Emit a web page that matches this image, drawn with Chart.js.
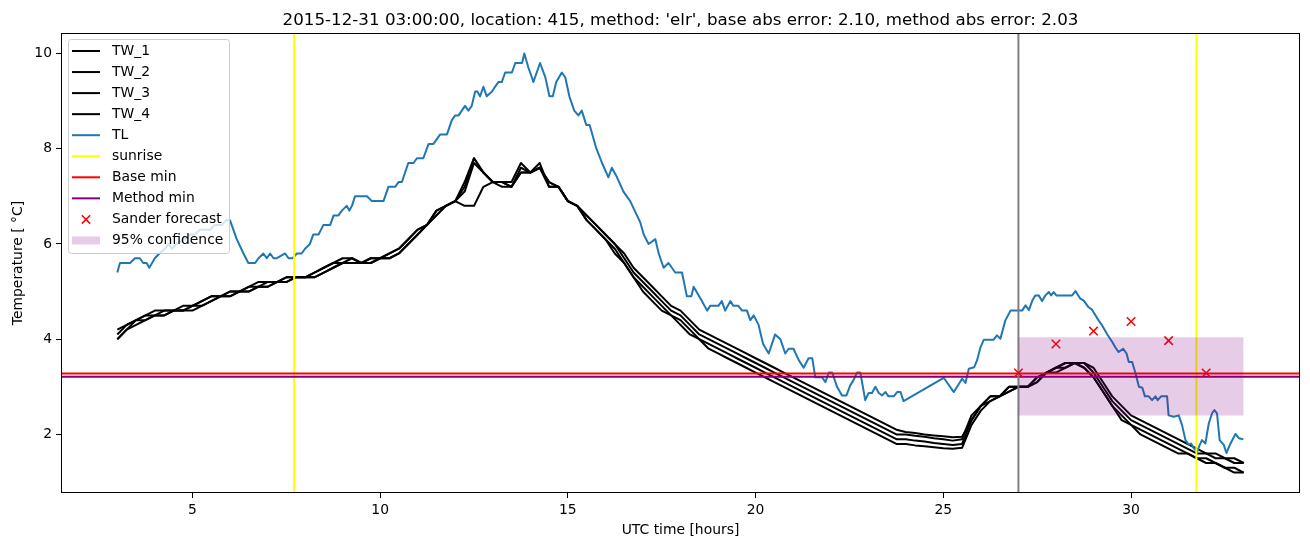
<!DOCTYPE html>
<html>
<head>
<meta charset="utf-8">
<script src="https://cdn.jsdelivr.net/npm/chart.js@4.4.0/dist/chart.umd.min.js"></script>
<style>
    body { margin: 0; background: #ffffff; }
    #contenedor { width: 1310px; height: 547px; }
</style>
</head>
<body>
<div id="contenedor"><canvas id="grafica" width="1310" height="547"></canvas></div>
<script>
const titulo = "2015-12-31 03:00:00, location: 415, method: 'elr', base abs error: 2.10, method abs error: 2.03";
const etiquetaX = "UTC time [hours]";
const etiquetaY = "Temperature [ °C]";

const xTicks = [5, 10, 15, 20, 25, 30];
const yTicks = [2, 4, 6, 8, 10];

// horas de las series TW (cada 15 min)
const twHours = [
    3, 3.25, 3.5, 3.75, 4, 4.25, 4.5, 4.75, 5, 5.25,
    5.5, 5.75, 6, 6.25, 6.5, 6.75, 7, 7.25, 7.5, 7.75,
    8, 8.25, 8.5, 8.75, 9, 9.25, 9.5, 9.75, 10, 10.25,
    10.5, 10.75, 11, 11.25, 11.5, 11.75, 12, 12.25, 12.5, 12.75,
    13, 13.25, 13.5, 13.75, 14, 14.25, 14.5, 14.75, 15, 15.25,
    15.5, 15.75, 16, 16.25, 16.5, 16.75, 17, 17.25, 17.5, 17.75,
    18, 18.25, 18.5, 18.75, 19, 19.25, 19.5, 19.75, 20, 20.25,
    20.5, 20.75, 21, 21.25, 21.5, 21.75, 22, 22.25, 22.5, 22.75,
    23, 23.25, 23.5, 23.75, 24, 24.25, 24.5, 24.75, 25, 25.25,
    25.5, 25.75, 26, 26.25, 26.5, 26.75, 27, 27.25, 27.5, 27.75,
    28, 28.25, 28.5, 28.75, 29, 29.25, 29.5, 29.75, 30, 30.25,
    30.5, 30.75, 31, 31.25, 31.5, 31.75, 32, 32.25, 32.5, 32.75,
    33
];

const tw1 = [
    4.2, 4.3, 4.4, 4.5, 4.6, 4.6, 4.6, 4.7, 4.7, 4.8,
    4.9, 4.9, 5.0, 5.0, 5.1, 5.2, 5.2, 5.2, 5.3, 5.3,
    5.3, 5.4, 5.5, 5.6, 5.7, 5.7, 5.6, 5.7, 5.7, 5.8,
    5.9, 6.1, 6.3, 6.4, 6.7, 6.8, 6.9, 7.3, 7.8, 7.5,
    7.3, 7.3, 7.3, 7.7, 7.5, 7.7, 7.2, 7.2, 6.9, 6.8,
    6.6, 6.4, 6.2, 6.0, 5.8, 5.5, 5.3, 5.1, 4.9, 4.7,
    4.6, 4.4, 4.2, 4.1, 4.0, 3.9, 3.8, 3.7, 3.6, 3.5,
    3.4, 3.3, 3.2, 3.1, 3.0, 2.9, 2.8, 2.7, 2.6, 2.5,
    2.4, 2.3, 2.2, 2.1, 2.05, 2.03, 2.0, 1.98, 1.96, 1.94,
    1.95, 2.3, 2.6, 2.8, 2.8, 2.9, 3.0, 3.0, 3.1, 3.3,
    3.4, 3.4, 3.5, 3.5, 3.4, 3.1, 2.8, 2.6, 2.4, 2.3,
    2.2, 2.1, 2.0, 1.9, 1.8, 1.7, 1.6, 1.6, 1.5, 1.5,
    1.4
];

const tw2 = [
    4.1, 4.3, 4.4, 4.5, 4.5, 4.6, 4.6, 4.6, 4.7, 4.8,
    4.9, 4.9, 5.0, 5.0, 5.1, 5.1, 5.2, 5.2, 5.3, 5.3,
    5.3, 5.4, 5.5, 5.6, 5.6, 5.7, 5.6, 5.7, 5.7, 5.8,
    5.9, 6.1, 6.3, 6.4, 6.7, 6.8, 6.9, 7.2, 7.8, 7.5,
    7.3, 7.3, 7.2, 7.6, 7.5, 7.6, 7.2, 7.2, 6.9, 6.8,
    6.6, 6.4, 6.2, 6.0, 5.7, 5.4, 5.2, 5.0, 4.8, 4.6,
    4.5, 4.3, 4.1, 4.0, 3.9, 3.8, 3.7, 3.6, 3.5, 3.4,
    3.3, 3.2, 3.1, 3.0, 2.9, 2.8, 2.7, 2.6, 2.5, 2.4,
    2.3, 2.2, 2.1, 2.0, 2.0, 1.97, 1.95, 1.92, 1.9, 1.87,
    1.9, 2.4, 2.6, 2.8, 2.8, 3.0, 3.0, 3.0, 3.2, 3.3,
    3.4, 3.5, 3.5, 3.5, 3.3, 3.0, 2.7, 2.5, 2.3, 2.2,
    2.1, 2.0, 1.9, 1.8, 1.7, 1.6, 1.6, 1.5, 1.5, 1.4,
    1.4
];

const tw3 = [
    4.0, 4.2, 4.4, 4.4, 4.5, 4.5, 4.6, 4.6, 4.7, 4.7,
    4.8, 4.9, 4.9, 5.0, 5.0, 5.1, 5.1, 5.2, 5.2, 5.3,
    5.3, 5.3, 5.4, 5.5, 5.6, 5.6, 5.6, 5.6, 5.7, 5.7,
    5.8, 6.0, 6.2, 6.4, 6.6, 6.8, 6.9, 7.1, 7.7, 7.5,
    7.3, 7.2, 7.2, 7.5, 7.5, 7.6, 7.3, 7.2, 6.9, 6.8,
    6.5, 6.3, 6.1, 5.9, 5.6, 5.3, 5.1, 4.9, 4.7, 4.5,
    4.4, 4.2, 4.0, 3.9, 3.8, 3.7, 3.6, 3.5, 3.4, 3.3,
    3.2, 3.1, 3.0, 2.9, 2.8, 2.7, 2.6, 2.5, 2.4, 2.3,
    2.2, 2.1, 2.0, 1.9, 1.9, 1.87, 1.85, 1.82, 1.8, 1.78,
    1.8, 2.3, 2.6, 2.7, 2.8, 3.0, 3.0, 3.0, 3.2, 3.3,
    3.4, 3.5, 3.5, 3.4, 3.2, 2.9, 2.6, 2.4, 2.2, 2.1,
    2.0, 1.9, 1.8, 1.7, 1.6, 1.5, 1.5, 1.4, 1.3, 1.3,
    1.2
];

const tw4 = [
    4.0, 4.2, 4.3, 4.4, 4.5, 4.5, 4.6, 4.6, 4.6, 4.7,
    4.8, 4.9, 4.9, 5.0, 5.0, 5.1, 5.1, 5.2, 5.2, 5.3,
    5.3, 5.3, 5.4, 5.5, 5.6, 5.6, 5.6, 5.6, 5.7, 5.7,
    5.8, 6.0, 6.2, 6.4, 6.6, 6.8, 6.9, 6.8, 6.8, 7.2,
    7.3, 7.3, 7.2, 7.5, 7.5, 7.6, 7.3, 7.2, 6.9, 6.8,
    6.5, 6.3, 6.1, 5.8, 5.6, 5.3, 5.0, 4.8, 4.6, 4.5,
    4.3, 4.1, 4.0, 3.8, 3.7, 3.6, 3.5, 3.4, 3.3, 3.2,
    3.1, 3.0, 2.9, 2.8, 2.7, 2.6, 2.5, 2.4, 2.3, 2.2,
    2.1, 2.0, 1.9, 1.8, 1.8, 1.77, 1.75, 1.73, 1.71, 1.7,
    1.72, 2.2, 2.5, 2.7, 2.8, 2.9, 3.0, 3.0, 3.1, 3.3,
    3.3, 3.4, 3.5, 3.4, 3.2, 2.9, 2.6, 2.3, 2.2, 2.0,
    1.9, 1.8, 1.7, 1.6, 1.6, 1.5, 1.4, 1.4, 1.3, 1.2,
    1.2
];

// TL: [hora, temperatura]
const tlPoints = [
    [3.00, 5.4], [3.07, 5.6], [3.34, 5.6], [3.47, 5.7], [3.60, 5.7], [3.69, 5.6], [3.78, 5.6], [3.85, 5.5],
    [4.00, 5.7], [4.12, 5.8], [4.27, 5.9], [4.36, 6.0], [4.45, 5.9], [4.58, 6.0], [4.80, 6.1], [4.94, 6.2],
    [5.07, 6.2], [5.20, 6.3], [5.34, 6.3], [5.47, 6.3], [5.60, 6.4], [5.79, 6.4], [5.90, 6.5], [6.00, 6.5],
    [6.18, 6.1], [6.36, 5.8], [6.49, 5.6], [6.67, 5.6], [6.76, 5.7], [6.89, 5.8], [6.98, 5.7], [7.07, 5.8],
    [7.16, 5.7], [7.25, 5.7], [7.47, 5.8], [7.56, 5.7], [7.67, 5.7], [7.78, 5.8], [7.91, 5.8], [8.00, 5.9],
    [8.13, 6.0], [8.22, 6.2], [8.36, 6.2], [8.49, 6.4], [8.67, 6.4], [8.76, 6.6], [8.89, 6.6], [8.98, 6.7],
    [9.11, 6.8], [9.18, 6.7], [9.25, 6.8], [9.33, 7.0], [9.65, 7.0], [9.78, 6.9], [10.09, 6.9], [10.22, 7.2],
    [10.40, 7.2], [10.49, 7.3], [10.58, 7.3], [10.75, 7.7], [10.89, 7.7], [10.98, 7.8], [11.15, 7.8], [11.29, 8.1],
    [11.42, 8.1], [11.60, 8.3], [11.78, 8.3], [11.91, 8.6], [12.00, 8.7], [12.09, 8.7], [12.26, 8.9], [12.35, 8.8],
    [12.44, 8.9], [12.53, 9.2], [12.59, 9.2], [12.66, 9.1], [12.75, 9.3], [12.84, 9.1], [12.98, 9.2], [13.06, 9.3],
    [13.15, 9.4], [13.24, 9.4], [13.33, 9.6], [13.51, 9.6], [13.60, 9.8], [13.78, 9.8], [13.84, 10.0], [13.95, 9.7],
    [14.04, 9.5], [14.08, 9.4], [14.26, 9.8], [14.40, 9.5], [14.51, 9.1], [14.60, 9.1], [14.69, 9.4], [14.84, 9.6],
    [14.93, 9.5], [15.04, 9.1], [15.17, 8.8], [15.28, 8.7], [15.37, 8.8], [15.49, 8.5], [15.58, 8.5], [15.76, 8.0],
    [15.91, 7.7], [16.08, 7.4], [16.17, 7.6], [16.31, 7.4], [16.48, 7.1], [16.66, 6.9], [16.84, 6.6], [16.93, 6.45],
    [17.02, 6.2], [17.15, 6.0], [17.33, 6.1], [17.42, 5.8], [17.55, 5.5], [17.68, 5.6], [17.86, 5.4], [18.04, 5.4],
    [18.17, 4.9], [18.29, 4.9], [18.35, 5.1], [18.57, 4.8], [18.71, 4.6], [18.79, 4.7], [19.01, 4.7], [19.10, 4.8],
    [19.19, 4.6], [19.33, 4.8], [19.41, 4.7], [19.54, 4.7], [19.64, 4.6], [19.77, 4.6], [19.86, 4.4], [19.95, 4.5],
    [20.08, 4.3], [20.20, 3.9], [20.35, 3.7], [20.52, 4.1], [20.66, 4.0], [20.79, 3.7], [20.88, 3.8], [21.01, 3.8],
    [21.15, 3.56], [21.28, 3.4], [21.41, 3.6], [21.51, 3.6], [21.59, 3.2], [21.77, 3.2], [21.86, 3.1], [21.95, 3.3],
    [22.04, 3.3], [22.17, 3.0], [22.30, 2.82], [22.42, 2.82], [22.52, 3.03], [22.61, 3.14], [22.70, 3.3], [22.79, 3.3],
    [22.92, 2.72], [23.01, 2.87], [23.10, 2.87], [23.19, 3.0], [23.28, 2.87], [23.37, 2.82], [23.46, 2.89], [23.54, 2.8],
    [23.68, 2.8], [23.77, 2.89], [23.86, 2.89], [23.94, 2.7], [25.01, 3.19], [25.28, 2.89], [25.50, 3.17], [25.59, 3.08],
    [25.68, 3.38], [25.82, 3.41], [25.90, 3.56], [25.99, 3.83], [26.08, 3.99], [26.34, 3.99], [26.43, 4.08], [26.52, 4.01],
    [26.65, 4.39], [26.79, 4.6], [27.01, 4.6], [27.10, 4.6], [27.19, 4.71], [27.28, 4.61], [27.37, 4.81], [27.45, 4.92],
    [27.54, 4.92], [27.63, 4.8], [27.72, 4.92], [27.81, 4.99], [27.87, 4.92], [27.94, 4.99], [28.01, 4.92], [28.43, 4.92],
    [28.52, 5.01], [28.65, 4.85], [28.74, 4.81], [28.87, 4.67], [28.96, 4.62], [29.14, 4.39], [29.23, 4.29], [29.36, 4.11],
    [29.50, 3.94], [29.58, 3.83], [29.67, 3.73], [29.79, 3.8], [29.88, 3.7], [29.94, 3.52], [30.03, 3.52], [30.12, 3.28],
    [30.21, 3.0], [30.30, 2.98], [30.37, 2.8], [30.47, 2.8], [30.56, 2.72], [30.65, 2.8], [30.71, 2.72], [30.80, 2.8],
    [30.96, 2.8], [31.00, 2.4], [31.14, 2.37], [31.27, 2.4], [31.36, 2.19], [31.45, 1.88], [31.54, 1.78], [31.60, 1.81],
    [31.67, 1.71], [31.76, 1.64], [31.83, 1.78], [31.89, 1.88], [31.98, 1.81], [32.07, 2.23], [32.16, 2.45], [32.22, 2.51],
    [32.29, 2.44], [32.36, 1.88], [32.47, 1.78], [32.54, 1.61], [32.65, 1.81], [32.78, 2.01], [32.87, 1.92], [32.99, 1.9]
];

const sunriseHours = [7.71, 31.74];
const cutoffHour = 27;
const baseMin = 3.28;
const methodMin = 3.21;
const sanderHours = [27, 28, 29, 30, 31, 32];
const sanderValues = [3.29, 3.90, 4.17, 4.37, 3.97, 3.29];
const bandHours = [27, 33];
const bandLow = 2.40;
const bandHigh = 4.04;

const fuente = '"DejaVu Sans", "Liberation Sans", sans-serif';

function serieTW(valores){
    return twHours.map((h, i) => ({ x: h, y: valores[i] }));
}

function lineaSimple(etiqueta, datos, color, orden){
    return {
        label: etiqueta,
        data: datos,
        borderColor: color,
        backgroundColor: color,
        borderWidth: 2,
        pointRadius: 0,
        tension: 0,
        fill: false,
        borderJoinStyle: 'round',
        order: orden
    };
}

const datasets = [
    lineaSimple('TW_1', serieTW(tw1), '#000000', 20),
    lineaSimple('TW_2', serieTW(tw2), '#000000', 19),
    lineaSimple('TW_3', serieTW(tw3), '#000000', 18),
    lineaSimple('TW_4', serieTW(tw4), '#000000', 17),
    lineaSimple('TL', tlPoints.map(p => ({ x: p[0], y: p[1] })), '#1f77b4', 16)
];

sunriseHours.forEach(h => {
    datasets.push(lineaSimple('sunrise', [{ x: h, y: -5 }, { x: h, y: 20 }], '#ffff00', 15));
});
datasets.push(lineaSimple('Base min', [{ x: -10, y: baseMin }, { x: 50, y: baseMin }], '#ff0000', 14));
datasets.push(lineaSimple('Method min', [{ x: -10, y: methodMin }, { x: 50, y: methodMin }], '#800080', 13));
datasets.push(lineaSimple('', [{ x: cutoffHour, y: -5 }, { x: cutoffHour, y: 20 }], '#808080', 12));
datasets.push({
    label: 'Sander forecast',
    data: sanderHours.map((h, i) => ({ x: h, y: sanderValues[i] })),
    showLine: false,
    pointStyle: 'crossRot',
    pointRadius: 6,
    pointBorderWidth: 1.5,
    borderColor: '#ff0000',
    backgroundColor: '#ff0000',
    order: 11
});
datasets.push({
    label: '95% confidence',
    data: bandHours.map(h => ({ x: h, y: bandHigh })),
    borderWidth: 0,
    pointRadius: 0,
    backgroundColor: 'rgba(128,0,128,0.2)',
    fill: { value: bandLow },
    order: 10
});

const entradasLeyenda = [
    { texto: 'TW_1', tipo: 'linea', color: '#000000' },
    { texto: 'TW_2', tipo: 'linea', color: '#000000' },
    { texto: 'TW_3', tipo: 'linea', color: '#000000' },
    { texto: 'TW_4', tipo: 'linea', color: '#000000' },
    { texto: 'TL', tipo: 'linea', color: '#1f77b4' },
    { texto: 'sunrise', tipo: 'linea', color: '#ffff00' },
    { texto: 'Base min', tipo: 'linea', color: '#ff0000' },
    { texto: 'Method min', tipo: 'linea', color: '#800080' },
    { texto: 'Sander forecast', tipo: 'cruz', color: '#ff0000' },
    { texto: '95% confidence', tipo: 'parche', color: 'rgba(128,0,128,0.2)' }
];

const decorado = {
    id: 'decorado',
    afterDatasetsDraw(chart){
        const a = chart.chartArea;
        const ctx = chart.ctx;
        ctx.save();
        ctx.strokeStyle = '#000000';
        ctx.lineWidth = 1;
        ctx.strokeRect(Math.round(a.left) + 0.5, Math.round(a.top) + 0.5,
            Math.round(a.right - a.left) - 1, Math.round(a.bottom - a.top) - 1);
        ctx.restore();
    },
    afterDraw(chart){
        const a = chart.chartArea;
        const ctx = chart.ctx;
        ctx.save();

        // titulo
        ctx.fillStyle = '#000000';
        ctx.font = '16.7px ' + fuente;
        ctx.textAlign = 'center';
        ctx.textBaseline = 'alphabetic';
        ctx.fillText(titulo, (a.left + a.right) / 2, 24.5);

        // etiquetas de ejes
        ctx.font = '13.9px ' + fuente;
        ctx.textBaseline = 'middle';
        ctx.fillText(etiquetaX, (a.left + a.right) / 2, 530);
        ctx.save();
        ctx.translate(18, (a.top + a.bottom) / 2);
        ctx.rotate(-Math.PI / 2);
        ctx.fillText(etiquetaY, 0, 0);
        ctx.restore();

        // leyenda
        const bx = 68.5, by = 39.5, bw = 161, bh = 214, r = 3;
        ctx.beginPath();
        ctx.moveTo(bx + r, by);
        ctx.lineTo(bx + bw - r, by);
        ctx.arcTo(bx + bw, by, bx + bw, by + r, r);
        ctx.lineTo(bx + bw, by + bh - r);
        ctx.arcTo(bx + bw, by + bh, bx + bw - r, by + bh, r);
        ctx.lineTo(bx + r, by + bh);
        ctx.arcTo(bx, by + bh, bx, by + bh - r, r);
        ctx.lineTo(bx, by + r);
        ctx.arcTo(bx, by, bx + r, by, r);
        ctx.closePath();
        ctx.fillStyle = 'rgba(255,255,255,0.8)';
        ctx.fill();
        ctx.strokeStyle = '#cccccc';
        ctx.lineWidth = 1;
        ctx.stroke();

        ctx.textAlign = 'left';
        entradasLeyenda.forEach((e, i) => {
            const y = 51 + i * 21.05;
            if(e.tipo === 'linea'){
                ctx.beginPath();
                ctx.moveTo(72, y);
                ctx.lineTo(100, y);
                ctx.strokeStyle = e.color;
                ctx.lineWidth = 2;
                ctx.stroke();
            }else if(e.tipo === 'cruz'){
                ctx.beginPath();
                ctx.moveTo(86 - 4.2, y - 4.2);
                ctx.lineTo(86 + 4.2, y + 4.2);
                ctx.moveTo(86 - 4.2, y + 4.2);
                ctx.lineTo(86 + 4.2, y - 4.2);
                ctx.strokeStyle = e.color;
                ctx.lineWidth = 1.5;
                ctx.stroke();
            }else{
                ctx.fillStyle = e.color;
                ctx.fillRect(72, y - 4, 28, 8);
            }
            ctx.fillStyle = '#000000';
            ctx.fillText(e.texto, 112, y);
        });

        ctx.restore();
    }
};

const ctx = document.getElementById('grafica').getContext('2d');

new Chart(ctx, {
    type: 'line',
    data: { datasets: datasets },
    options: {
        responsive: false,
        animation: false,
        devicePixelRatio: 1,
        layout: { padding: { top: 33, right: 10, left: 0, bottom: 0 } },
        plugins: {
            legend: { display: false },
            tooltip: { enabled: false },
            title: { display: false }
        },
        scales: {
            x: {
                type: 'linear',
                min: 1.5,
                max: 34.5,
                afterBuildTicks: (s) => { s.ticks = xTicks.map(v => ({ value: v })); },
                afterFit: (s) => { s.height = 54; },
                grid: { drawOnChartArea: false, drawTicks: true, tickLength: 5, color: '#000000', lineWidth: 1 },
                border: { display: false },
                ticks: { color: '#000000', padding: 4, maxRotation: 0, font: { family: fuente, size: 13.9 } }
            },
            y: {
                type: 'linear',
                min: 0.77,
                max: 10.43,
                afterBuildTicks: (s) => { s.ticks = yTicks.map(v => ({ value: v })); },
                afterFit: (s) => { s.width = 61; },
                grid: { drawOnChartArea: false, drawTicks: true, tickLength: 5, color: '#000000', lineWidth: 1 },
                border: { display: false },
                ticks: { color: '#000000', padding: 4, font: { family: fuente, size: 13.9 } }
            }
        }
    },
    plugins: [decorado]
});
</script>
</body>
</html>
